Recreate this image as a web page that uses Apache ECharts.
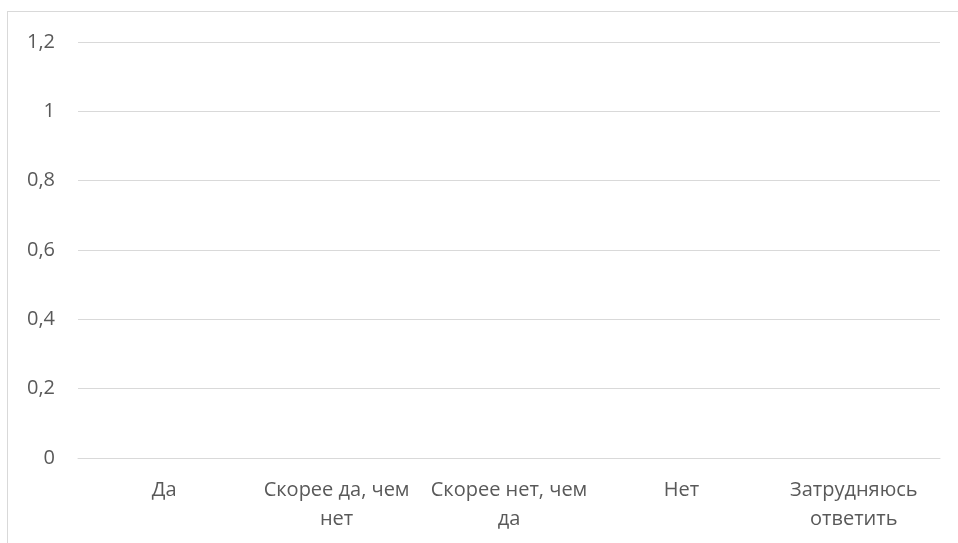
<!DOCTYPE html>
<html>
<head>
<meta charset="utf-8">
<script src="https://cdn.jsdelivr.net/npm/echarts@6/dist/echarts.min.js"></script>
<style>
html,body{margin:0;padding:0;background:#fff;overflow:hidden;}
#chart{position:absolute;left:0;top:0;width:958px;height:543px;}
#frame{position:absolute;left:7px;top:11px;width:1000px;height:600px;border:1.5px solid #d9d9d9;box-sizing:border-box;pointer-events:none;}
</style>
</head>
<body>
<div id="frame"></div>
<div id="chart"></div>
<script>
const categories = ['Да', 'Скорее да, чем нет', 'Скорее нет, чем да', 'Нет', 'Затрудняюсь ответить'];
const seriesValues = [null, null, null, null, null];
const yTicks = [0, 0.2, 0.4, 0.6, 0.8, 1, 1.2];

function wrap(text, maxChars) {
  const words = text.split(' ');
  const lines = [];
  let cur = '';
  words.forEach(w => {
    const next = cur ? cur + ' ' + w : w;
    if (next.length > maxChars && cur) { lines.push(cur); cur = w; }
    else cur = next;
  });
  if (cur) lines.push(cur);
  return lines.join('\n');
}

const chart = echarts.init(document.getElementById('chart'));
chart.setOption({
  animation: false,
  backgroundColor: 'transparent',
  grid: { left: 78, right: 18, top: 42, bottom: 85 },
  xAxis: {
    type: 'category',
    data: categories,
    axisLine: { show: true, lineStyle: { color: '#d9d9d9', width: 1 } },
    axisTick: { show: false },
    axisLabel: {
      color: '#595959',
      fontFamily: 'Open Sans',
      fontSize: 20,
      lineHeight: 29,
      margin: 18,
      interval: 0,
      formatter: v => wrap(v, 15)
    }
  },
  yAxis: {
    type: 'value',
    min: yTicks[0],
    max: yTicks[yTicks.length - 1],
    interval: 0.2,
    axisLine: { show: false },
    axisTick: { show: false },
    splitLine: { lineStyle: { color: '#d9d9d9', width: 1 } },
    axisLabel: {
      color: '#595959',
      fontFamily: 'Open Sans',
      fontSize: 20,
      margin: 23,
      formatter: v => String(Math.round(v * 10) / 10).replace('.', ',')
    }
  },
  series: [{
    type: 'bar',
    data: seriesValues,
    itemStyle: { color: '#4472c4' }
  }]
});
</script>
</body>
</html>
